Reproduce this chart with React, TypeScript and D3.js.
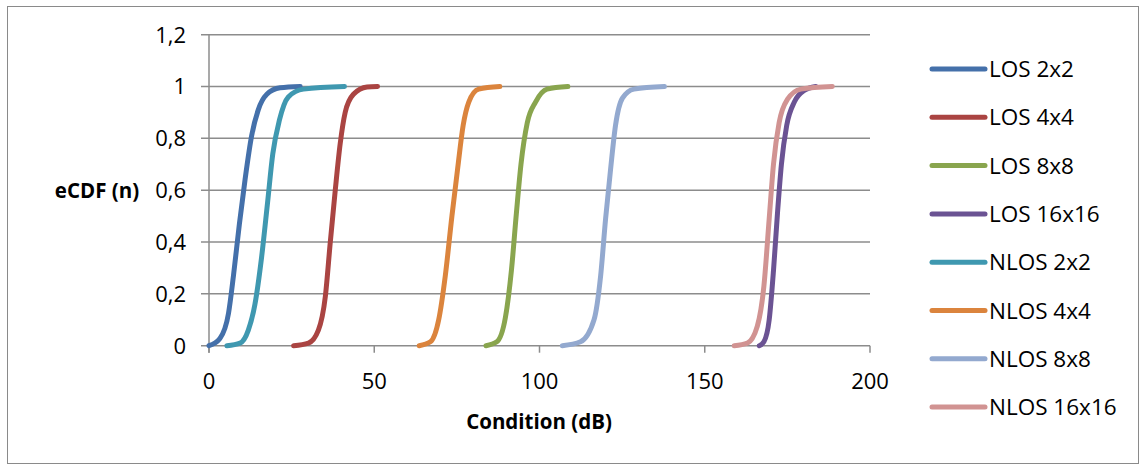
import React from "react";
import * as d3 from "d3";

const seriesNames = ["LOS 2x2", "LOS 4x4", "LOS 8x8", "LOS 16x16", "NLOS 2x2", "NLOS 4x4", "NLOS 8x8", "NLOS 16x16"];
const seriesColors = ["#4470AA", "#AA4442", "#89A54E", "#6B5393", "#3F98B0", "#DB843D", "#93A9CF", "#D19392"];

const los2x2X = [0, 3.3, 5.9, 7.4, 9.2, 10.9, 12.9, 14.9, 17.5, 21.5, 27.6];
const los2x2Y = [0, 0.028, 0.125, 0.27, 0.47, 0.64, 0.81, 0.91, 0.97, 0.995, 1.0];
const los4x4X = [25.6, 30.1, 33.1, 35.2, 36.7, 38.2, 39.7, 41.2, 43.7, 47.8, 51.0];
const los4x4Y = [0, 0.01, 0.06, 0.19, 0.4, 0.6, 0.78, 0.9, 0.97, 0.998, 1.0];
const los8x8X = [83.8, 87.1, 89.7, 91.5, 93.0, 94.4, 96.3, 98.8, 102.3, 108.6];
const los8x8Y = [0, 0.015, 0.11, 0.29, 0.51, 0.7, 0.86, 0.94, 0.99, 1.0];
const los16x16X = [166.5, 167.9, 169.5, 170.8, 172.0, 173.2, 174.8, 177.1, 180.1, 183.6];
const los16x16Y = [0, 0.015, 0.1, 0.29, 0.51, 0.7, 0.85, 0.94, 0.985, 1.0];
const nlos2x2X = [5.4, 9.4, 11.9, 13.9, 15.9, 17.7, 19.3, 21.3, 24.0, 28.6, 41.0];
const nlos2x2Y = [0, 0.01, 0.06, 0.16, 0.34, 0.55, 0.74, 0.87, 0.96, 0.99, 1.0];
const nlos4x4X = [63.6, 67.0, 69.5, 71.5, 73.5, 75.2, 76.9, 78.6, 81.6, 88.0];
const nlos4x4Y = [0, 0.015, 0.1, 0.27, 0.5, 0.68, 0.85, 0.94, 0.99, 1.0];
const nlos8x8X = [106.9, 112.4, 116.5, 118.5, 120.0, 121.5, 123.0, 125.1, 128.6, 137.8];
const nlos8x8Y = [0, 0.015, 0.1, 0.27, 0.49, 0.68, 0.85, 0.955, 0.99, 1.0];
const nlos16x16X = [158.9, 162.9, 165.9, 167.9, 169.5, 170.8, 172.5, 175.0, 179.1, 188.6];
const nlos16x16Y = [0, 0.01, 0.075, 0.23, 0.49, 0.7, 0.86, 0.95, 0.99, 1.0];

const seriesX = [los2x2X, los4x4X, los8x8X, los16x16X, nlos2x2X, nlos4x4X, nlos8x8X, nlos16x16X];
const seriesY = [los2x2Y, los4x4Y, los8x8Y, los16x16Y, nlos2x2Y, nlos4x4Y, nlos8x8Y, nlos16x16Y];

const xTicks = [0, 50, 100, 150, 200];
const yTicks = [0, 0.2, 0.4, 0.6, 0.8, 1, 1.2];
const yTickLabels = ["0", "0,2", "0,4", "0,6", "0,8", "1", "1,2"];
const xTitle = "Condition (dB)";
const yTitle = "eCDF (n)";

const W = 1145;
const H = 468;
const FONT = "'Open Sans', 'Liberation Sans', sans-serif";

export default function App() {
  const x = d3.scaleLinear().domain([0, 200]).range([209, 870]);
  const y = d3.scaleLinear().domain([0, 1.2]).range([345.7, 34.7]);
  const line = d3
    .line<[number, number]>()
    .x((d) => x(d[0]))
    .y((d) => y(d[1]))
    .curve(d3.curveMonotoneX);
  const gridColor = "#8c8c8c";

  return (
    <svg
      width={W}
      height={H}
      style={{ position: "absolute", left: 0, top: 0, background: "#fff" }}
      fontFamily={FONT}
    >
      <rect x={7.5} y={6.5} width={1131} height={457} fill="#fff" stroke="#8a8a8a" strokeWidth={1} />
      {yTicks.map((t) => (
        <line key={"g" + t} x1={201} x2={x(200)} y1={y(t)} y2={y(t)} stroke={gridColor} strokeWidth={1.5} />
      ))}
      <line x1={x(0)} x2={x(0)} y1={y(1.2)} y2={y(0) + 7} stroke={gridColor} strokeWidth={1.5} />
      {xTicks.map((t) => (
        <line key={"xt" + t} x1={x(t)} x2={x(t)} y1={y(0)} y2={y(0) + 7} stroke={gridColor} strokeWidth={1.5} />
      ))}
      {yTicks.map((t, i) => (
        <text key={"yl" + t} x={186} y={y(t)} dy="0.36em" textAnchor="end" fontSize={22} fill="#000">
          {yTickLabels[i]}
        </text>
      ))}
      {xTicks.map((t) => (
        <text key={"xl" + t} x={x(t)} y={389} textAnchor="middle" fontSize={22} fill="#000">
          {t}
        </text>
      ))}
      <text x={539} y={429} textAnchor="middle" fontSize={20.5} fontWeight="bold" fill="#000">
        {xTitle}
      </text>
      <text x={97} y={198} textAnchor="middle" fontSize={20.5} fontWeight="bold" fill="#000">
        {yTitle}
      </text>
      {seriesNames.map((name, i) => {
        const pts: [number, number][] = seriesX[i].map((v, j) => [v, seriesY[i][j]]);
        return (
          <path
            key={name}
            d={line(pts) || ""}
            fill="none"
            stroke={seriesColors[i]}
            strokeWidth={5}
            strokeLinecap="round"
            strokeLinejoin="round"
          />
        );
      })}
      {seriesNames.map((name, i) => {
        const ly = 69 + i * 48.3;
        return (
          <g key={"lg" + name}>
            <line x1={932} x2={985} y1={ly} y2={ly} stroke={seriesColors[i]} strokeWidth={5} strokeLinecap="round" />
            <text x={989} y={ly} dy="0.36em" fontSize={22.5} fill="#000">
              {name}
            </text>
          </g>
        );
      })}
    </svg>
  );
}
